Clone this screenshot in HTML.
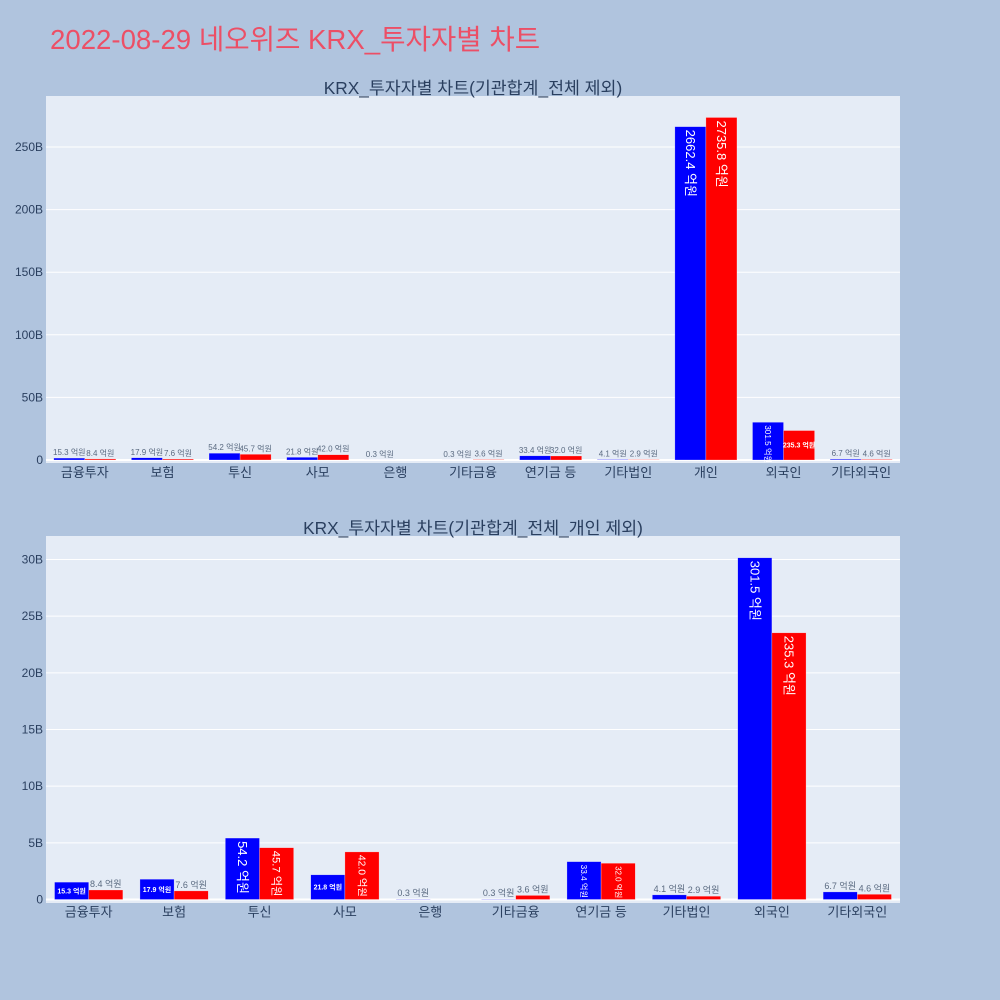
<!DOCTYPE html>
<html><head><meta charset="utf-8">
<style>
body{margin:0;background:#b0c4de;}
svg{display:block;font-family:"Liberation Sans","Noto Sans CJK KR",sans-serif;}
</style></head>
<body>
<svg id="root" width="1000" height="1000" viewBox="0 0 1000 1000">
<rect x="0" y="0" width="1000" height="1000" fill="#b0c4de"/>
<text x="50" y="49" font-size="27.6" fill="#ec4f66">2022-08-29 네오위즈 KRX_투자자별 차트</text>
</svg>
<script>
const categories = ["금융투자","보험","투신","사모","은행","기타금융","연기금 등","기타법인","개인","외국인","기타외국인"];
const buyValues = [15.3,17.9,54.2,21.8,0.3,0.3,33.4,4.1,2662.4,301.5,6.7];
const sellValues = [8.4,7.6,45.7,42.0,0,3.6,32.0,2.9,2735.8,235.3,4.6];
const topTicks = [0,50,100,150,200,250];
const bottomTicks = [0,5,10,15,20,25,30];

const NS="http://www.w3.org/2000/svg";
const root=document.getElementById('root');
function mk(tag,attrs,parent){const e=document.createElementNS(NS,tag);for(const k in attrs)e.setAttribute(k,attrs[k]);(parent||root).appendChild(e);return e;}

function drawChart(cfg){
  const g=mk('g',{});
  
  
  const bg=mk('rect',{x:cfg.x0,y:cfg.y0,width:cfg.x1-cfg.x0,height:cfg.y1-cfg.y0,fill:'#e5ecf6'},g);
  
  
  const t=mk('text',{x:(cfg.x0+cfg.x1)/2,y:cfg.y0-2,'font-size':17.3,fill:'#2a3f5f','text-anchor':'middle'},g);
  t.textContent=cfg.title;
  
  
  const yScale=v=>cfg.zeroY-(v/cfg.tickStep)*cfg.tickPx;
  cfg.ticks.forEach(tv=>{
    const y=yScale(tv);
    const ln=mk('line',{x1:cfg.x0,x2:cfg.x1,y1:y,y2:y,stroke:'#fff','stroke-width':tv===0?2:1},g);
    
    
    const tl=mk('text',{x:cfg.x0-3,y:y+4,'font-size':12,fill:'#2a3f5f','text-anchor':'end'},g);
    tl.textContent=tv===0?'0':tv+'B';
    
    
  });
  const idx=categories.map((c,i)=>i).filter(i=>!cfg.exclude.includes(i));
  const band=(cfg.x1-cfg.x0)/idx.length;
  const bw=band*0.4;
  idx.forEach((i,k)=>{
    const c=categories[i];
    const bx=cfg.x0+band*k+band*0.1;
    const cl=mk('text',{x:cfg.x0+band*(k+0.5),y:cfg.zeroY+17,'font-size':13,fill:'#2a3f5f','text-anchor':'middle'},g);
    cl.textContent=c;
    
    
    [[buyValues,'#0000ff','buy'],[sellValues,'#ff0000','sell']].forEach(([arr,col,nm],j)=>{
      const v=arr[i];
      const vb=v/10;
      const x=bx+j*bw, y=yScale(vb), h=cfg.zeroY-y;
      const r=mk('rect',{x:x,y:y,width:bw,height:Math.max(h,0),fill:col,stroke:'rgba(255,255,255,0.5)','stroke-width':0.5},g);
      
      
      if(v===0)return;
      const label=v.toFixed(1)+' 억원';
      let tx;
      if(h>=30){
        const fs=Math.min(13,h/4.6);
        tx=mk('text',{x:0,y:0,'font-size':fs,fill:'#fff',transform:`translate(${x+bw/2-fs*0.35},${y+3}) rotate(90)`},g);
      }else if(h>=12){
        const fs=Math.min(7,h/2.2);
        tx=mk('text',{x:x+bw/2,y:y+h/2+fs*0.35,'font-size':fs,'font-weight':'bold',fill:'#fff','text-anchor':'middle'},g);
      }else{
        const fs=cfg.outFs;
        tx=mk('text',{x:x+bw/2,y:y-3,'font-size':fs,fill:'#5a6a80','text-anchor':'middle'},g);
      }
      tx.textContent=label;
      
      
    });
  });
}
drawChart({name:'chart-excluding-institution-total',title:'KRX_투자자별 차트(기관합계_전체 제외)',x0:46,x1:900,y0:96,y1:463,zeroY:460,tickStep:50,tickPx:62.6,ticks:topTicks,exclude:[],outFs:8});
drawChart({name:'chart-excluding-individual',title:'KRX_투자자별 차트(기관합계_전체_개인 제외)',x0:46,x1:900,y0:536,y1:903,zeroY:899.5,tickStep:5,tickPx:56.67,ticks:bottomTicks,exclude:[8],outFs:9});
</script>
</body></html>
